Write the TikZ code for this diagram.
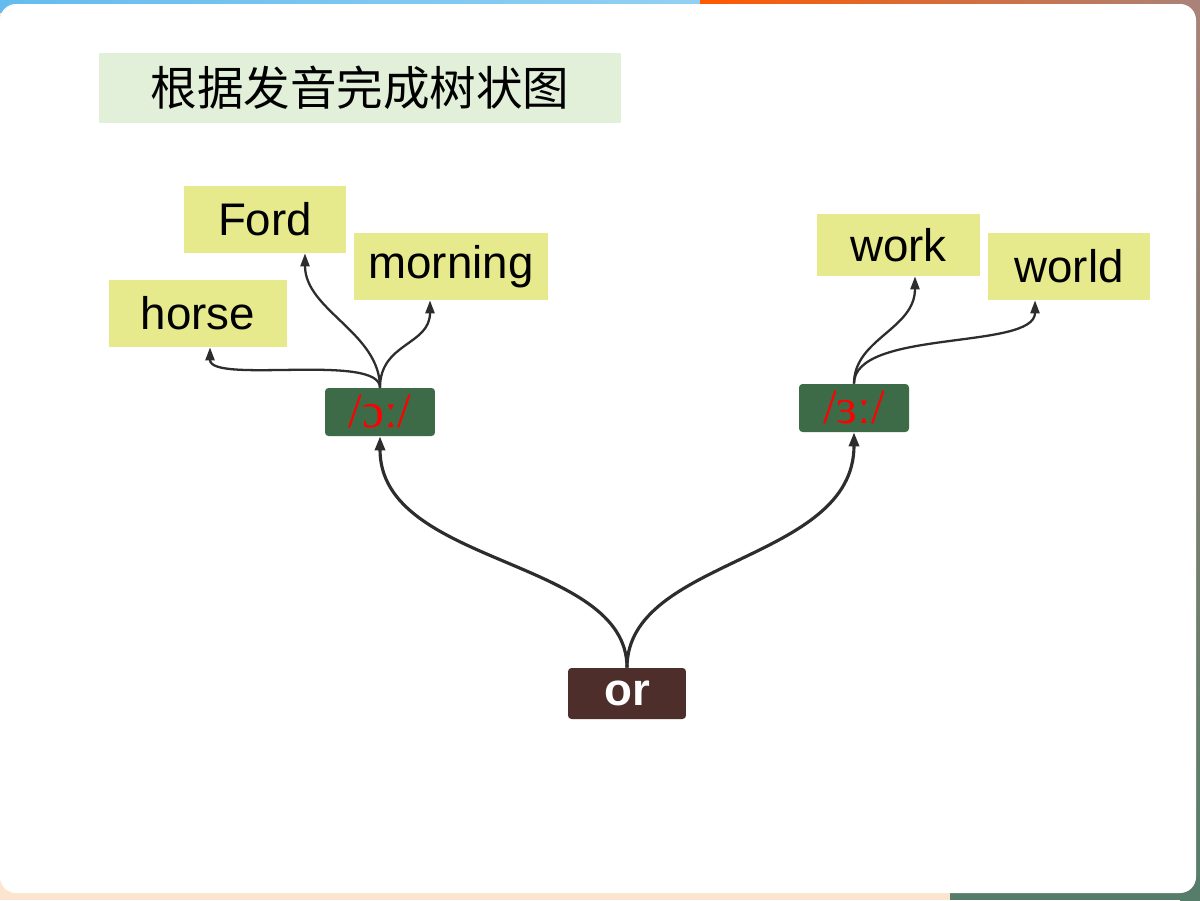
\documentclass[tikz,border=0pt]{standalone}
\usepackage{fontspec}
\setmainfont{Liberation Sans}
\newfontfamily\cjkfont{Noto Sans CJK SC}
\newfontfamily\ipafont{Liberation Serif}
\usetikzlibrary{arrows.meta}
\definecolor{wordbg}{RGB}{230,233,140}
\definecolor{titlebg}{RGB}{226,240,217}
\definecolor{ipabg}{RGB}{62,107,71}
\definecolor{orbg}{RGB}{78,46,42}
\definecolor{linecol}{RGB}{45,45,45}
\definecolor{peach}{RGB}{252,228,206}
\definecolor{skyblue}{RGB}{100,188,238}
\definecolor{rustbrown}{RGB}{170,130,120}
\definecolor{deepgreen}{RGB}{85,125,105}
\tikzset{
  wordbox/.style={fill=wordbg, inner sep=0pt, font=\fontsize{26}{30}\selectfont, text=black},
  ipabox/.style={fill=ipabg, rounded corners=2pt, inner sep=0pt, minimum width=2.2cm, minimum height=0.96cm, font=\ipafont\fontsize{28}{32}\selectfont, text=red},
  rootbox/.style={fill=orbg, rounded corners=2pt, inner sep=0pt, minimum width=2.36cm, minimum height=1.02cm, font=\bfseries\fontsize{26}{30}\selectfont, text=white},
  bigarrow/.style={draw=linecol, line width=1.8pt, -{Triangle[length=0.28cm,width=0.2cm]}},
  smallarrow/.style={draw=linecol, line width=1.3pt, -{Triangle[length=0.26cm,width=0.18cm]}}
}
\begin{document}
\begin{tikzpicture}[x=0.02cm,y=-0.02cm]
\useasboundingbox (0,0) rectangle (1200,900);
% background photo frame (simplified)
\fill[peach] (0,0) rectangle (1200,900);
\shade[left color=skyblue, right color=skyblue!70!white] (0,0) rectangle (700,12);
\shade[left color=orange!70!red, right color=rustbrown] (700,0) rectangle (1200,12);
\shade[top color=rustbrown, bottom color=deepgreen] (1180,0) rectangle (1200,900);
\fill[deepgreen] (950,880) rectangle (1200,900);
\fill[white] (0,4) [rounded corners=0.32cm] -- (1196,4) -- (1196,893) -- (0,893) -- cycle;
% title
\node[fill=titlebg, inner sep=0pt, minimum width=10.44cm, minimum height=1.4cm,
      font=\cjkfont\fontsize{26.5}{30}\selectfont] (title) at (360,88) {根据发音完成树状图};
% word boxes
\node[wordbox, minimum width=3.24cm, minimum height=1.34cm] (ford) at (265,219.5) {Ford};
\node[wordbox, minimum width=3.88cm, minimum height=1.34cm] (morning) at (451,266.5) {morning};
\node[wordbox, minimum width=3.56cm, minimum height=1.34cm] (horse) at (198,313.5) {horse};
\node[wordbox, minimum width=3.26cm, minimum height=1.24cm] (work) at (898.5,245) {work};
\node[wordbox, minimum width=3.24cm, minimum height=1.34cm] (world) at (1069,266.5) {world};
% phoneme boxes
\node[ipabox] (ipa1) at (380,412) {/ɔː/};
\node[ipabox] (ipa2) at (854,408) {/ɜː/};
% root
\node[rootbox] (or) at (627,693.5) {or};
% big connectors
\draw[bigarrow] (or.north) .. controls +(0,-110) and +(0,130) .. (ipa1.south);
\draw[bigarrow] (or.north) .. controls +(0,-110) and +(0,130) .. (ipa2.south);
% small connectors
\draw[smallarrow] (ipa1.north) .. controls +(0,-35) and +(0,37) .. ([xshift=0.24cm]horse.south);
\draw[smallarrow] (ipa1.north) .. controls +(0,-55) and +(0,57) .. ([xshift=0.8cm]ford.south);
\draw[smallarrow] (ipa1.north) .. controls +(0,-45) and +(0,45) .. ([xshift=-0.42cm]morning.south);
\draw[smallarrow] (ipa2.north) .. controls +(0,-45) and +(0,53) .. ([xshift=0.33cm]work.south);
\draw[smallarrow] (ipa2.north) .. controls +(0,-55) and +(0,50) .. ([xshift=-0.68cm]world.south);
\end{tikzpicture}
\end{document}
